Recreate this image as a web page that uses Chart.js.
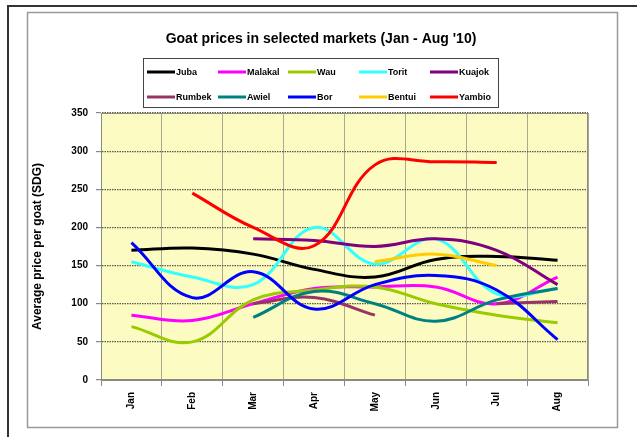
<!DOCTYPE html>
<html>
<head>
<meta charset="utf-8">
<script src="https://cdn.jsdelivr.net/npm/chart.js@4.4.1/dist/chart.umd.min.js"></script>
<style>
html,body{margin:0;padding:0;background:#fff;}
#c{display:block;}
</style>
</head>
<body>
<canvas id="c" width="637" height="437"></canvas>
<script>
const categories = ['Jan','Feb','Mar','Apr','May','Jun','Jul','Aug'];
const yTicks = [0,50,100,150,200,250,300,350];
const titleText = "Goat prices in selected markets (Jan - Aug '10)";
const yTitle = 'Average price per goat (SDG)';

const juba    = [170,173,165,145,135,158,162,157];
const malakal = [85,78,100,120,122,122,100,135];
const wau     = [70,50,105,118,122,100,85,75];
const torit   = [155,135,125,200,152,185,113,120];
const kuajok  = [null,null,185,183,175,185,170,125];
const rumbek  = [null,null,100,108,85,null,100,103];
const awiel   = [null,null,82,116,100,77,105,120];
const bor     = [180,108,142,93,125,137,118,53];
const bentui  = [null,null,null,null,155,165,150,null];
const yambio  = [null,245,200,176,282,286,285,null];

const seriesNames = ['Juba','Malakal','Wau','Torit','Kuajok','Rumbek','Awiel','Bor','Bentui','Yambio'];
const seriesData = [juba,malakal,wau,torit,kuajok,rumbek,awiel,bor,bentui,yambio];
const seriesColors = ['#000000','#FF00FF','#99CC00','#33FFFF','#800080','#993366','#008080','#0000FF','#FFCC00','#FF0000'];

const datasets = seriesNames.map((n,i)=>({
  label:n,
  data:seriesData[i],
  borderColor:seriesColors[i],
  backgroundColor:seriesColors[i],
  borderWidth:3,
  pointRadius:0,
  pointHoverRadius:0,
  tension:0.4,
  fill:false,
  order:10-i
}));

const decor = {
  id:'decor',
  beforeDraw(chart){
    const ctx = chart.ctx, a = chart.chartArea;
    ctx.save();
    ctx.fillStyle='#fff';
    ctx.fillRect(0,0,chart.width,chart.height);
    ctx.strokeStyle='#333';
    ctx.lineWidth=2;
    ctx.beginPath();
    ctx.moveTo(8,437);ctx.lineTo(8,6);ctx.lineTo(637,6);
    ctx.stroke();
    ctx.strokeStyle='#999';
    ctx.lineWidth=1.5;
    ctx.strokeRect(27.5,12.5,590,415);
    ctx.fillStyle='#FCFBC2';
    ctx.fillRect(a.left,a.top,a.right-a.left,a.bottom-a.top);
    ctx.restore();
  },
  beforeDatasetsDraw(chart){
    const ctx = chart.ctx, a = chart.chartArea;
    ctx.save();
    ctx.strokeStyle='#8c8c7c';
    ctx.lineWidth=1;
    ctx.strokeRect(a.left+0.5,a.top+0.5,a.right-a.left-1,a.bottom-a.top-1);
    ctx.restore();
  },
  afterDraw(chart){
    const ctx = chart.ctx;
    ctx.save();
    ctx.fillStyle='#000';
    ctx.font='bold 14px "Liberation Sans", Arial, sans-serif';
    ctx.textAlign='center';
    ctx.textBaseline='middle';
    ctx.fillText(titleText,321,39);
    ctx.strokeStyle='#444';
    ctx.lineWidth=1;
    ctx.strokeRect(143.5,58.5,355,49);
    const colX=[147,218,288,359,430];
    const rowY=[72,97];
    ctx.font='bold 9px "Liberation Sans", Arial, sans-serif';
    ctx.textAlign='left';
    chart.data.datasets.forEach((ds,i)=>{
      const x=colX[i%5], y=rowY[Math.floor(i/5)];
      ctx.strokeStyle=ds.borderColor;
      ctx.lineWidth=3;
      ctx.beginPath();ctx.moveTo(x,y);ctx.lineTo(x+28,y);ctx.stroke();
      ctx.fillStyle='#000';
      ctx.fillText(ds.label,x+29,y+0.5);
    });
    ctx.restore();
  }
};

new Chart(document.getElementById('c'),{
  type:'line',
  data:{labels:categories,datasets:datasets},
  options:{
    responsive:false,
    animation:false,
    events:[],
    layout:{padding:{left:0,top:113,right:49,bottom:0}},
    plugins:{legend:{display:false},title:{display:false},tooltip:{enabled:false}},
    scales:{
      x:{
        offset:true,
        grid:{offset:true,color:'#a8a894',lineWidth:1,tickLength:6,tickColor:'#888'},
        border:{color:'#888',width:1},
        ticks:{minRotation:90,maxRotation:90,padding:6,color:'#000',font:{family:'"Liberation Sans", Arial, sans-serif',size:10,weight:'bold'}},
        afterFit(s){s.height=57;}
      },
      y:{
        min:0,max:350,
        afterBuildTicks(s){s.ticks=yTicks.map(v=>({value:v}));},
        grid:{color:'#5a5a4a',lineWidth:1.2,tickLength:5,tickColor:'#888',tickBorderDash:[]},
        border:{color:'#888',width:1,dash:[1.5,1]},
        ticks:{padding:8,color:'#000',font:{family:'"Liberation Sans", Arial, sans-serif',size:10,weight:'bold'}},
        title:{display:true,text:yTitle,color:'#000',padding:{top:30,bottom:0},font:{family:'"Liberation Sans", Arial, sans-serif',size:12,weight:'bold'}},
        afterFit(s){s.width=101;}
      }
    }
  },
  plugins:[decor]
});
</script>
</body>
</html>
